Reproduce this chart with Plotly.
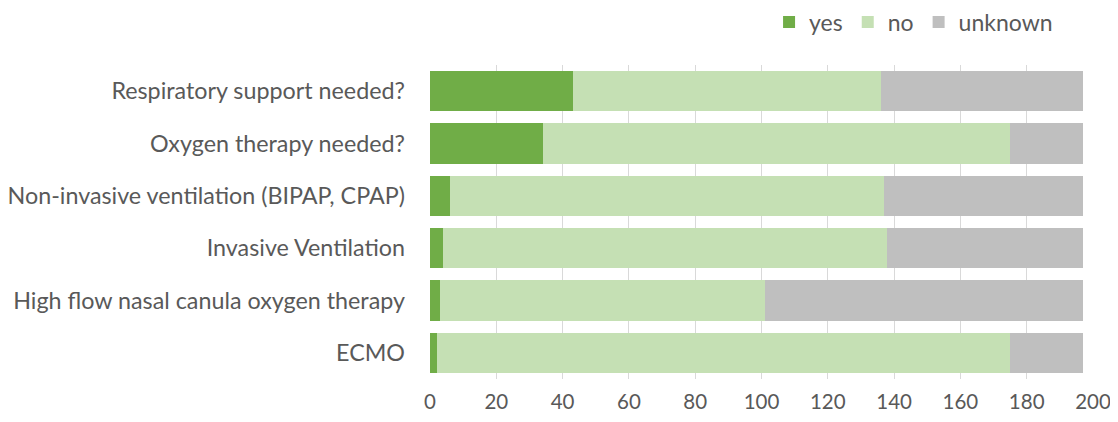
import plotly.graph_objects as go

categories = [
    "Respiratory support needed?",
    "Oxygen therapy needed?",
    "Non-invasive ventilation (BIPAP, CPAP)",
    "Invasive Ventilation",
    "High flow nasal canula oxygen therapy",
    "ECMO",
]
yes_vals = [43, 34, 6, 4, 3, 2]
no_vals = [93, 141, 131, 134, 98, 173]
unknown_vals = [61, 22, 60, 59, 96, 22]
x_ticks = [0, 20, 40, 60, 80, 100, 120, 140, 160, 180, 200]

font_family = "Lato, Open Sans, sans-serif"
text_color = "#595959"

fig = go.Figure()
for name, vals, color in [
    ("yes", yes_vals, "#70AD47"),
    ("no", no_vals, "#C5E0B4"),
    ("unknown", unknown_vals, "#BFBFBF"),
]:
    fig.add_trace(go.Bar(
        name=name, y=categories, x=vals, orientation="h",
        marker=dict(color=color, line=dict(width=0)),
    ))

fig.update_layout(
    barmode="stack",
    bargap=0.235,
    width=1110, height=406,
    margin=dict(l=422, r=25, t=57, b=35, autoexpand=False),
    paper_bgcolor="white", plot_bgcolor="white",
    font=dict(family=font_family, size=23, color=text_color),
    legend=dict(
        orientation="h", xref="container", yref="container",
        x=0.946, xanchor="right", y=0.9655, yanchor="middle",
        font=dict(size=23, color=text_color), itemwidth=30,
        traceorder="normal", bgcolor="rgba(0,0,0,0)",
    ),
    xaxis=dict(
        range=[0, 200], tickvals=x_ticks, showgrid=True, automargin=False,
        gridcolor="#D9D9D9", gridwidth=1, zeroline=False,
        showline=False, ticks="", tickfont=dict(size=20.5, color=text_color),
        ticklabelstandoff=8, ticklabeloverflow="allow", layer="below traces",
    ),
    yaxis=dict(
        autorange="reversed", showgrid=False, zeroline=False, showline=False,
        automargin=False,
        ticks="", ticklabelstandoff=24, tickfont=dict(size=23.3, color=text_color),
    ),
)

fig.write_html("out.html")
